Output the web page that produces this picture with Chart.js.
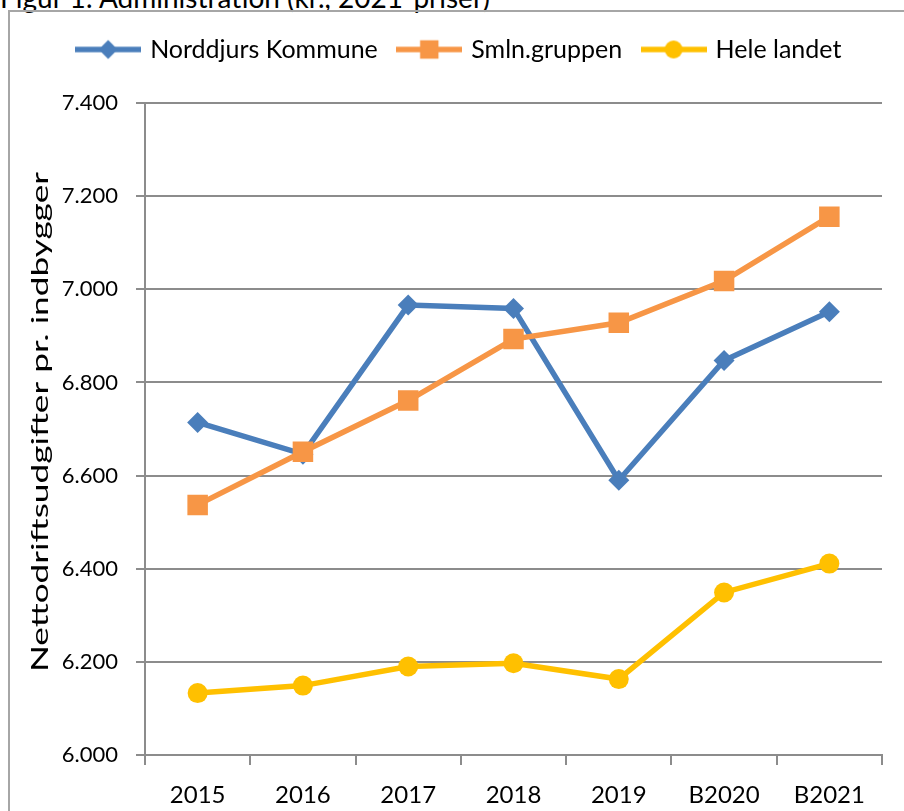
<!DOCTYPE html>
<html>
<head>
<meta charset="utf-8">
<script src="https://cdn.jsdelivr.net/npm/chart.js@4/dist/chart.umd.min.js"></script>
<style>
    body { margin: 0; background: #fff; overflow: hidden; }
    #caption { position: absolute; left: 0; top: -20px; font: 28px Lato, sans-serif; color: #000; white-space: nowrap; }
    #frame { position: absolute; left: 8px; top: 10px; width: 1000px; height: 1000px; border: 2px solid #a6a6a6; }
    #wrap { position: absolute; left: 0; top: 0; width: 904px; height: 811px; }
</style>
</head>
<body>
<div id="caption">Figur 1: Administration (kr., 2021-priser)</div>
<div id="frame"></div>
<div id="wrap"><canvas id="chart-admin"></canvas></div>
<script>
// ---------- Data ----------
const years = ['2015', '2016', '2017', '2018', '2019', 'B2020', 'B2021'];
const norddjurs = [6714, 6646, 6966, 6959, 6590, 6847, 6952];
const smlnGruppen = [6537, 6651, 6761, 6893, 6928, 7018, 7156];
const heleLandet = [6133, 6149, 6190, 6197, 6163, 6349, 6411];
const yTicks = [6000, 6200, 6400, 6600, 6800, 7000, 7200, 7400];
const yTitle = 'Nettodriftsudgifter pr. indbygger';

const FONT = 'Lato, sans-serif';
const GRID = '#8c8c8c';

const series = [
    { label: 'Norddjurs Kommune', data: norddjurs, color: '#4a7ebb', style: 'rectRot', radius: 10.5, order: 1 },
    { label: 'Smln.gruppen', data: smlnGruppen, color: '#f79646', style: 'rect', radius: 14.5, order: 0 },
    { label: 'Hele landet', data: heleLandet, color: '#ffc000', style: 'circle', radius: 10, order: 2 }
];

// legend icon: line with marker in the middle
function legendIcon(s) {
    const c = document.createElement('canvas');
    c.width = 66; c.height = 26;
    const g = c.getContext('2d');
    g.strokeStyle = s.color;
    g.lineWidth = 5.5;
    g.beginPath(); g.moveTo(0, 13); g.lineTo(66, 13); g.stroke();
    g.fillStyle = s.color;
    Chart.helpers.drawPoint(g, { pointStyle: s.style, radius: s.radius * 0.9, rotation: 0, borderWidth: 0 }, 33, 13);
    return c;
}
const icons = series.map(legendIcon);

// the axis title in the original is stretched along its length
const stretchedYTitle = {
    id: 'stretchedYTitle',
    afterDraw(chart) {
        const c = chart.ctx;
        c.save();
        c.translate(41, 422);
        c.rotate(-Math.PI / 2);
        c.font = '23px ' + FONT;
        c.fillStyle = '#000';
        c.textAlign = 'center';
        c.textBaseline = 'middle';
        const w = c.measureText(yTitle).width;
        c.scale(500 / w, 1);
        c.fillText(yTitle, 0, 0);
        c.restore();
    }
};

const ctx = document.getElementById('chart-admin').getContext('2d');
new Chart(ctx, {
    type: 'line',
    data: {
        labels: years,
        datasets: series.map(s => ({
            label: s.label,
            data: s.data,
            order: s.order,
            borderColor: s.color,
            backgroundColor: s.color,
            borderWidth: 5.5,
            pointStyle: s.style,
            pointRadius: s.radius,
            pointHoverRadius: s.radius,
            pointBackgroundColor: s.color,
            pointBorderWidth: 0,
            tension: 0
        }))
    },
    options: {
        responsive: true,
        maintainAspectRatio: false,
        animation: false,
        layout: { padding: { left: 38, right: 22, top: 15, bottom: 0 } },
        plugins: {
            tooltip: { enabled: false },
            legend: {
                position: 'top',
                labels: {
                    usePointStyle: true,
                    pointStyleWidth: 59,
                    padding: 22,
                    color: '#000',
                    font: { family: FONT, size: 25 },
                    generateLabels: chart => series.map((s, i) => ({
                        text: s.label,
                        pointStyle: icons[i],
                        fillStyle: s.color,
                        strokeStyle: s.color,
                        lineWidth: 0,
                        datasetIndex: i,
                        hidden: false
                    }))
                }
            },
            // empty spacer between legend and plot
            subtitle: {
                display: true,
                text: '',
                position: 'top',
                weight: 500,
                font: { size: 10, lineHeight: 1 },
                padding: 10.5
            }
        },
        scales: {
            x: {
                offset: true,
                grid: { offset: true, drawOnChartArea: false, drawTicks: true, tickLength: 10, color: GRID, lineWidth: 2 },
                border: { color: GRID, width: 2 },
                ticks: { color: '#000', font: { family: FONT, size: 24 }, padding: 16, maxRotation: 0 },
                afterFit: scale => { scale.height = 56; }
            },
            y: {
                min: 6000,
                max: 7400,
                afterBuildTicks: scale => { scale.ticks = yTicks.map(v => ({ value: v })); },
                grid: { color: GRID, lineWidth: 2, tickLength: 9 },
                border: { color: GRID, width: 2 },
                ticks: {
                    color: '#000',
                    font: { family: FONT, size: 22 },
                    padding: 18,
                    callback: v => v.toLocaleString('da-DK')
                },
                afterFit: scale => { scale.width = 145 - 38; }
            }
        }
    },
    plugins: [stretchedYTitle]
});
</script>
</body>
</html>
